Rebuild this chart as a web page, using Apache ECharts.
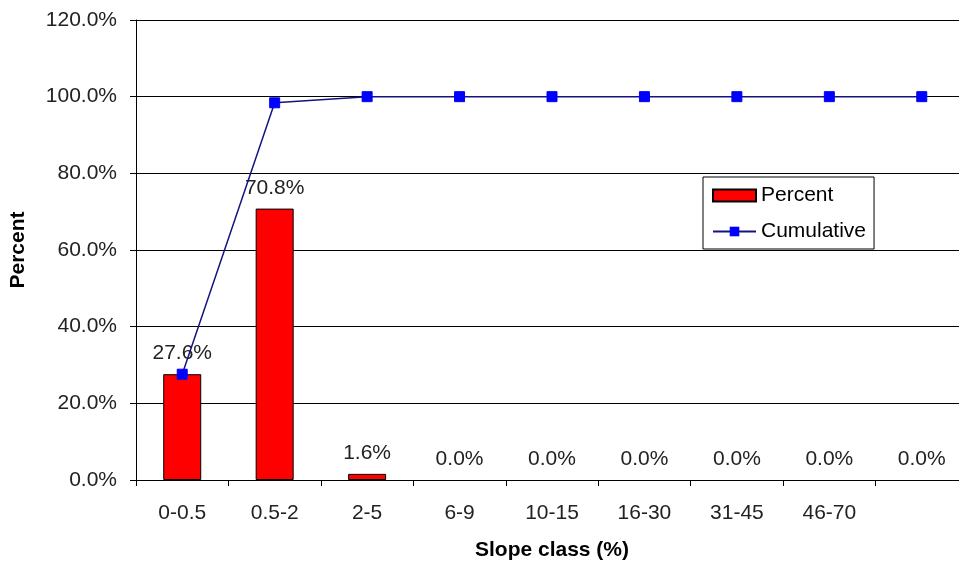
<!DOCTYPE html>
<html>
<head>
<meta charset="utf-8">
<style>
  html, body { margin: 0; padding: 0; background: #fff; overflow: hidden; width: 959px; height: 567px; }
  /* drawing surface is a little wider than the window so the plot area runs off the right edge */
  #chart { width: 968px; height: 567px; }
</style>
<script src="https://cdn.jsdelivr.net/npm/echarts@6/dist/echarts.min.js"></script>
</head>
<body>
<div id="chart"></div>
<script>
// Slope class distribution: share of area per class and running total
const slopeClasses = ['0-0.5', '0.5-2', '2-5', '6-9', '10-15', '16-30', '31-45', '46-70', ''];
const percentValues = [27.6, 70.8, 1.6, 0.0, 0.0, 0.0, 0.0, 0.0, 0.0];
const cumulativeValues = [27.6, 98.4, 100.0, 100.0, 100.0, 100.0, 100.0, 100.0, 100.0];
const yTicks = { min: 0, max: 120, interval: 20 };

const FONT = 'Liberation Sans, Arial, sans-serif';
const pct = v => Number(v).toFixed(1) + '%';

// Empty classes get no outline so no sliver is drawn on the axis
const barData = percentValues.map(v => (v === 0 ? { value: v, itemStyle: { borderWidth: 0 } } : v));

const chart = echarts.init(document.getElementById('chart'), null, { renderer: 'canvas' });

chart.setOption({
  backgroundColor: '#ffffff',
  animation: false,
  textStyle: { fontFamily: FONT, color: '#000' },
  grid: { left: 136, top: 20, right: 0, bottom: 87, containLabel: false },
  legend: {
    orient: 'vertical',
    left: 703,
    top: 177,
    padding: [8, 8, 7, 9],
    itemGap: 15,
    itemWidth: 43,
    itemHeight: 12,
    borderColor: '#000',
    borderWidth: 1,
    backgroundColor: '#fff',
    textStyle: { fontFamily: FONT, fontSize: 21, color: '#000' },
    data: [
      { name: 'Percent', icon: 'rect' },
      { name: 'Cumulative' }
    ]
  },
  xAxis: {
    type: 'category',
    data: slopeClasses,
    name: 'Slope class (%)',
    nameLocation: 'middle',
    nameGap: 60,
    nameTextStyle: { fontFamily: FONT, fontSize: 21, fontWeight: 'bold', color: '#000' },
    axisLine: { lineStyle: { color: '#000', width: 1 } },
    axisTick: { show: true, alignWithLabel: false, length: 6, lineStyle: { color: '#000' } },
    axisLabel: { fontFamily: FONT, fontSize: 21, color: '#222', margin: 23, interval: 0 },
    splitLine: { show: false }
  },
  yAxis: {
    type: 'value',
    min: yTicks.min,
    max: yTicks.max,
    interval: yTicks.interval,
    name: 'Percent',
    nameLocation: 'middle',
    nameGap: 107,
    nameTextStyle: { fontFamily: FONT, fontSize: 21, fontWeight: 'bold', color: '#000' },
    axisLine: { show: true, lineStyle: { color: '#000', width: 1 } },
    axisTick: { show: true, length: 6, lineStyle: { color: '#000' } },
    axisLabel: { fontFamily: FONT, fontSize: 21, color: '#222', margin: 19, formatter: pct },
    splitLine: { show: true, lineStyle: { color: '#000', width: 1 } }
  },
  series: [
    {
      name: 'Percent',
      type: 'bar',
      data: barData,
      barWidth: 38,
      itemStyle: { color: '#ff0000', borderColor: '#000', borderWidth: 1 },
      label: {
        show: true,
        position: 'top',
        distance: 10,
        fontFamily: FONT,
        fontSize: 21,
        color: '#222',
        formatter: p => pct(p.value)
      },
      z: 2
    },
    {
      name: 'Cumulative',
      type: 'line',
      data: cumulativeValues,
      symbol: 'rect',
      symbolSize: 10,
      lineStyle: { color: '#141480', width: 1.5 },
      itemStyle: { color: '#0000ff', borderColor: '#0000ff' },
      z: 3
    }
  ]
});
</script>
</body>
</html>
